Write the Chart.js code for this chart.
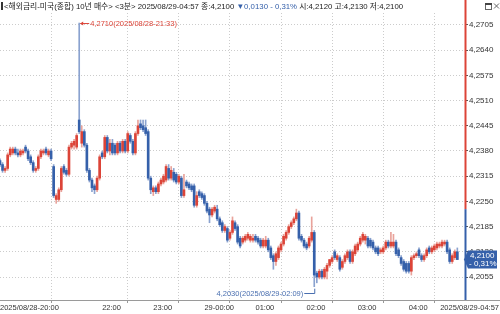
<!DOCTYPE html>
<html>
<head>
<meta charset="utf-8">
<script src="https://cdn.jsdelivr.net/npm/chart.js@4.4.1/dist/chart.umd.min.js"></script>
<style>
  html, body { margin: 0; padding: 0; background: #fff; overflow: hidden; }
  canvas { display: block; }
</style>
</head>
<body>
<canvas id="chart" width="500" height="314"></canvas>
<script>
// 3분봉: 2025/08/28 20:00 ~ 2025/08/29 04:57 (180 candles)
const opens = [
  4.2355, 4.2345, 4.2330, 4.2335, 4.2370, 4.2375, 4.2385, 4.2375, 4.2370, 4.2375,
  4.2390, 4.2380, 4.2365, 4.2350, 4.2330, 4.2335, 4.2365, 4.2375, 4.2385, 4.2370,
  4.2380, 4.2340, 4.2255, 4.2255, 4.2280, 4.2340, 4.2330, 4.2320, 4.2390, 4.2395,
  4.2390, 4.2460, 4.2400, 4.2430, 4.2395, 4.2330, 4.2305, 4.2290, 4.2280, 4.2310,
  4.2375, 4.2365, 4.2415, 4.2380, 4.2400, 4.2395, 4.2375, 4.2400, 4.2380, 4.2405,
  4.2380, 4.2420, 4.2405, 4.2375, 4.2425, 4.2450, 4.2445, 4.2440, 4.2430, 4.2310,
  4.2275, 4.2285, 4.2275, 4.2295, 4.2300, 4.2305, 4.2335, 4.2310, 4.2325, 4.2320,
  4.2300, 4.2310, 4.2265, 4.2300, 4.2295, 4.2290, 4.2290, 4.2240, 4.2275, 4.2270,
  4.2265, 4.2245, 4.2230, 4.2215, 4.2225, 4.2230, 4.2205, 4.2195, 4.2175, 4.2180,
  4.2155, 4.2170, 4.2195, 4.2185, 4.2155, 4.2145, 4.2150, 4.2155, 4.2150, 4.2150,
  4.2160, 4.2155, 4.2150, 4.2135, 4.2135, 4.2150, 4.2130, 4.2110, 4.2095, 4.2105,
  4.2125, 4.2140, 4.2155, 4.2170, 4.2185, 4.2195, 4.2205, 4.2220, 4.2160, 4.2150,
  4.2140, 4.2135, 4.2150, 4.2170, 4.2065, 4.2055, 4.2070, 4.2055, 4.2070, 4.2085,
  4.2095, 4.2120, 4.2100, 4.2105, 4.2080, 4.2095, 4.2105, 4.2120, 4.2095, 4.2115,
  4.2125, 4.2140, 4.2150, 4.2150, 4.2155, 4.2150, 4.2145, 4.2130, 4.2130, 4.2120,
  4.2120, 4.2130, 4.2145, 4.2135, 4.2135, 4.2145, 4.2125, 4.2105, 4.2095, 4.2090,
  4.2090, 4.2070, 4.2105, 4.2110, 4.2125, 4.2110, 4.2100, 4.2110, 4.2130, 4.2120,
  4.2125, 4.2130, 4.2135, 4.2135, 4.2140, 4.2145, 4.2125, 4.2095, 4.2105, 4.2120,
];
const highs = [
  4.2360, 4.2350, 4.2340, 4.2375, 4.2390, 4.2390, 4.2390, 4.2385, 4.2385, 4.2385,
  4.2395, 4.2385, 4.2370, 4.2355, 4.2340, 4.2370, 4.2385, 4.2385, 4.2390, 4.2385,
  4.2385, 4.2345, 4.2270, 4.2285, 4.2340, 4.2345, 4.2335, 4.2395, 4.2405, 4.2410,
  4.2425, 4.2710, 4.2445, 4.2435, 4.2400, 4.2335, 4.2310, 4.2295, 4.2315, 4.2370,
  4.2380, 4.2420, 4.2420, 4.2410, 4.2410, 4.2400, 4.2405, 4.2405, 4.2410, 4.2410,
  4.2430, 4.2425, 4.2410, 4.2430, 4.2460, 4.2460, 4.2460, 4.2460, 4.2435, 4.2315,
  4.2290, 4.2290, 4.2300, 4.2310, 4.2320, 4.2345, 4.2345, 4.2340, 4.2335, 4.2325,
  4.2320, 4.2315, 4.2320, 4.2305, 4.2300, 4.2295, 4.2295, 4.2275, 4.2280, 4.2275,
  4.2270, 4.2250, 4.2235, 4.2235, 4.2240, 4.2240, 4.2210, 4.2200, 4.2190, 4.2185,
  4.2175, 4.2210, 4.2200, 4.2190, 4.2160, 4.2160, 4.2165, 4.2170, 4.2165, 4.2165,
  4.2165, 4.2160, 4.2155, 4.2155, 4.2160, 4.2155, 4.2135, 4.2115, 4.2120, 4.2135,
  4.2145, 4.2165, 4.2175, 4.2190, 4.2200, 4.2210, 4.2230, 4.2225, 4.2165, 4.2155,
  4.2145, 4.2160, 4.2210, 4.2175, 4.2070, 4.2075, 4.2075, 4.2080, 4.2090, 4.2100,
  4.2110, 4.2125, 4.2115, 4.2110, 4.2100, 4.2115, 4.2125, 4.2125, 4.2125, 4.2140,
  4.2145, 4.2160, 4.2170, 4.2165, 4.2160, 4.2155, 4.2150, 4.2135, 4.2135, 4.2130,
  4.2135, 4.2150, 4.2150, 4.2170, 4.2165, 4.2150, 4.2130, 4.2110, 4.2100, 4.2095,
  4.2095, 4.2110, 4.2115, 4.2120, 4.2130, 4.2115, 4.2115, 4.2130, 4.2135, 4.2135,
  4.2140, 4.2145, 4.2145, 4.2150, 4.2150, 4.2150, 4.2130, 4.2115, 4.2125, 4.2130,
];
const lows = [
  4.2340, 4.2325, 4.2325, 4.2330, 4.2365, 4.2370, 4.2370, 4.2365, 4.2365, 4.2370,
  4.2375, 4.2355, 4.2345, 4.2325, 4.2325, 4.2330, 4.2360, 4.2370, 4.2370, 4.2365,
  4.2355, 4.2260, 4.2245, 4.2250, 4.2275, 4.2320, 4.2315, 4.2315, 4.2385, 4.2385,
  4.2385, 4.2425, 4.2390, 4.2390, 4.2325, 4.2300, 4.2275, 4.2270, 4.2275, 4.2305,
  4.2360, 4.2360, 4.2375, 4.2370, 4.2370, 4.2370, 4.2370, 4.2375, 4.2375, 4.2375,
  4.2375, 4.2400, 4.2370, 4.2370, 4.2420, 4.2435, 4.2430, 4.2420, 4.2305, 4.2270,
  4.2265, 4.2270, 4.2270, 4.2290, 4.2295, 4.2300, 4.2305, 4.2305, 4.2300, 4.2295,
  4.2295, 4.2260, 4.2260, 4.2285, 4.2280, 4.2275, 4.2235, 4.2235, 4.2260, 4.2255,
  4.2240, 4.2220, 4.2195, 4.2210, 4.2220, 4.2200, 4.2185, 4.2170, 4.2170, 4.2145,
  4.2150, 4.2165, 4.2175, 4.2140, 4.2130, 4.2140, 4.2145, 4.2150, 4.2145, 4.2145,
  4.2145, 4.2140, 4.2130, 4.2130, 4.2130, 4.2120, 4.2100, 4.2075, 4.2085, 4.2100,
  4.2120, 4.2135, 4.2150, 4.2165, 4.2180, 4.2190, 4.2200, 4.2150, 4.2145, 4.2130,
  4.2125, 4.2130, 4.2145, 4.2030, 4.2040, 4.2050, 4.2050, 4.2050, 4.2050, 4.2080,
  4.2090, 4.2100, 4.2095, 4.2070, 4.2075, 4.2090, 4.2100, 4.2090, 4.2090, 4.2110,
  4.2120, 4.2135, 4.2145, 4.2140, 4.2130, 4.2130, 4.2125, 4.2115, 4.2110, 4.2115,
  4.2115, 4.2125, 4.2130, 4.2130, 4.2130, 4.2110, 4.2105, 4.2085, 4.2070, 4.2065,
  4.2065, 4.2060, 4.2100, 4.2105, 4.2105, 4.2095, 4.2095, 4.2105, 4.2115, 4.2115,
  4.2120, 4.2125, 4.2130, 4.2130, 4.2135, 4.2115, 4.2090, 4.2090, 4.2100, 4.2100,
];
const closes = [
  4.2345, 4.2330, 4.2335, 4.2370, 4.2385, 4.2385, 4.2375, 4.2370, 4.2380, 4.2380,
  4.2380, 4.2360, 4.2350, 4.2330, 4.2335, 4.2365, 4.2380, 4.2380, 4.2375, 4.2380,
  4.2360, 4.2265, 4.2265, 4.2280, 4.2335, 4.2325, 4.2320, 4.2390, 4.2400, 4.2405,
  4.2420, 4.2430, 4.2430, 4.2395, 4.2330, 4.2305, 4.2285, 4.2280, 4.2310, 4.2365,
  4.2365, 4.2415, 4.2380, 4.2400, 4.2375, 4.2375, 4.2400, 4.2380, 4.2405, 4.2380,
  4.2425, 4.2405, 4.2375, 4.2425, 4.2445, 4.2440, 4.2435, 4.2425, 4.2310, 4.2280,
  4.2285, 4.2275, 4.2295, 4.2305, 4.2315, 4.2340, 4.2310, 4.2330, 4.2305, 4.2300,
  4.2315, 4.2265, 4.2280, 4.2290, 4.2285, 4.2280, 4.2240, 4.2265, 4.2265, 4.2260,
  4.2245, 4.2225, 4.2215, 4.2230, 4.2235, 4.2205, 4.2190, 4.2175, 4.2185, 4.2150,
  4.2170, 4.2200, 4.2180, 4.2145, 4.2135, 4.2155, 4.2160, 4.2165, 4.2160, 4.2155,
  4.2150, 4.2145, 4.2135, 4.2150, 4.2150, 4.2125, 4.2105, 4.2095, 4.2115, 4.2130,
  4.2140, 4.2160, 4.2170, 4.2185, 4.2195, 4.2205, 4.2220, 4.2155, 4.2150, 4.2135,
  4.2130, 4.2155, 4.2170, 4.2060, 4.2055, 4.2070, 4.2055, 4.2075, 4.2085, 4.2100,
  4.2105, 4.2105, 4.2110, 4.2075, 4.2095, 4.2110, 4.2120, 4.2095, 4.2120, 4.2135,
  4.2140, 4.2155, 4.2165, 4.2160, 4.2135, 4.2135, 4.2130, 4.2120, 4.2115, 4.2125,
  4.2130, 4.2145, 4.2135, 4.2145, 4.2145, 4.2115, 4.2110, 4.2090, 4.2075, 4.2070,
  4.2070, 4.2105, 4.2110, 4.2115, 4.2110, 4.2100, 4.2110, 4.2125, 4.2120, 4.2130,
  4.2135, 4.2140, 4.2140, 4.2145, 4.2145, 4.2120, 4.2095, 4.2110, 4.2120, 4.2100,
];
const prevClose = 4.2230;

const xTickIdx = [0, 40, 60, 80, 100, 120, 140, 160];
const xTickLabels = ['2025/08/28-20:00', '22:00', '23:00', '29-00:00', '01:00', '02:00', '03:00', '04:00'];
const lastTimeLabel = '2025/08/29-04:57';
const yTicks = [4.2055, 4.2120, 4.2185, 4.2250, 4.2315, 4.2380, 4.2445, 4.2510, 4.2575, 4.2640, 4.2705];
const chartName = '<해외금리-미국(종합) 10년 매수> <3분>';

const UP = '#dc4438', DOWN = '#3560aa';
const UP_WICK = '#e9a39b', DOWN_WICK = '#8aa2cf';
const FONT = '"Liberation Sans", "Noto Sans CJK KR", sans-serif';

const fmt = v => v.toFixed(4).replace('.', ',');
const isUp = i => closes[i] >= opens[i];

// candle index -> "2025/08/28-21:33"
function candleTime(i) {
    const d = new Date(Date.UTC(2025, 7, 28, 20, 0) + i * 3 * 60000);
    const p = n => String(n).padStart(2, '0');
    return `${d.getUTCFullYear()}/${p(d.getUTCMonth() + 1)}/${p(d.getUTCDate())}-${p(d.getUTCHours())}:${p(d.getUTCMinutes())}`;
}

const overlay = {
    id: 'overlay',
    afterDraw(chart) {
        const { ctx, chartArea: a, scales: { x, y } } = chart;
        const W = chart.width;
        const last = closes.length - 1;
        const line = (x1, y1, x2, y2) => { ctx.beginPath(); ctx.moveTo(x1, y1); ctx.lineTo(x2, y2); ctx.stroke(); };
        ctx.save();

        // bottom separator under the plot
        ctx.strokeStyle = '#9a9a9a';
        ctx.lineWidth = 1;
        line(0, a.bottom + 0.5, W, a.bottom + 0.5);

        // right axis line, red above previous close, blue below
        const yPrev = y.getPixelForValue(prevClose);
        ctx.lineWidth = 2;
        ctx.strokeStyle = UP;
        line(a.right + 0.5, 0, a.right + 0.5, yPrev);
        ctx.strokeStyle = DOWN;
        line(a.right + 0.5, yPrev, a.right + 0.5, a.bottom);

        // last time label, right aligned
        ctx.font = '7.5px ' + FONT;
        ctx.fillStyle = '#333';
        ctx.textAlign = 'right';
        ctx.textBaseline = 'middle';
        ctx.fillText(lastTimeLabel, W - 1, a.bottom + 7.5);

        // title line
        const diff = closes[last] - prevClose;
        const pct = Math.abs(diff / prevClose * 100).toFixed(2).replace('.', ',');
        const parts = [
            { t: `${chartName} ${lastTimeLabel} 종:${fmt(closes[last])} `, c: '#222' },
            { t: `${diff < 0 ? '▼' : '▲'}${fmt(Math.abs(diff))} ${diff < 0 ? '-' : '+'} ${pct}% `, c: diff < 0 ? DOWN : UP },
            { t: `시:${fmt(opens[last])} 고:${fmt(highs[last])} 저:${fmt(lows[last])}`, c: '#222' },
        ];
        ctx.fillStyle = '#333';
        ctx.fillRect(1, 2, 2, 8);
        ctx.font = '7.8px ' + FONT;
        ctx.textAlign = 'left';
        let tx = 4;
        parts.forEach(p => {
            ctx.fillStyle = p.c;
            ctx.fillText(p.t, tx, 6.5);
            tx += ctx.measureText(p.t).width;
        });

        // window icons top right
        ctx.strokeStyle = '#666';
        ctx.lineWidth = 1;
        ctx.strokeRect(485.5, 3.5, 6, 6);
        ctx.fillStyle = '#444';
        ctx.fillRect(485, 3, 7, 2);
        line(494, 3.5, 499, 8.5);
        line(499, 3.5, 494, 8.5);

        // highest high annotation
        let hi = 0, lo = 0;
        highs.forEach((v, i) => { if (v > highs[hi]) hi = i; });
        lows.forEach((v, i) => { if (v < lows[lo]) lo = i; });
        const hx = x.getPixelForValue(hi), hy = y.getPixelForValue(highs[hi]);
        ctx.strokeStyle = UP;
        ctx.fillStyle = UP;
        line(hx + 1, hy + 0.5, hx + 10, hy + 0.5);
        ctx.beginPath();
        ctx.moveTo(hx + 1, hy + 0.5);
        ctx.lineTo(hx + 4, hy - 1.5);
        ctx.lineTo(hx + 4, hy + 2.5);
        ctx.fill();
        ctx.font = '7.5px ' + FONT;
        ctx.textAlign = 'left';
        ctx.fillText(`${fmt(highs[hi])}(${candleTime(hi)})`, hx + 11, hy + 0.5);

        // lowest low annotation
        const lx = x.getPixelForValue(lo), ly = y.getPixelForValue(lows[lo]);
        const ty = a.bottom - 7;
        ctx.strokeStyle = '#4a6fb0';
        ctx.fillStyle = '#4a6fb0';
        line(lx + 0.5, ly + 2, lx + 0.5, ty + 0.5);
        line(lx + 0.5, ty + 0.5, lx - 10, ty + 0.5);
        ctx.textAlign = 'right';
        ctx.fillText(`${fmt(lows[lo])}(${candleTime(lo)})`, lx - 11, ty + 0.5);

        // current price box
        const cy = y.getPixelForValue(closes[last]);
        const bx = a.right + 1;
        ctx.fillStyle = DOWN;
        ctx.beginPath();
        ctx.moveTo(bx - 2, cy);
        ctx.lineTo(bx + 2, cy - 9);
        ctx.lineTo(W - 3, cy - 9);
        ctx.lineTo(W - 3, cy + 9);
        ctx.lineTo(bx + 2, cy + 9);
        ctx.closePath();
        ctx.fill();
        ctx.fillStyle = '#fff';
        ctx.font = '8px ' + FONT;
        ctx.textAlign = 'left';
        ctx.fillText(fmt(closes[last]), bx + 4, cy - 4);
        ctx.fillText(`${diff < 0 ? '-' : '+'} ${pct}%`, bx + 3, cy + 4.5);

        ctx.restore();
    },
};

new Chart(document.getElementById('chart'), {
    type: 'bar',
    data: {
        datasets: [
            {
                label: 'wick',
                data: highs.map((h, i) => ({ x: i, y: [lows[i], h] })),
                backgroundColor: highs.map((_, i) => isUp(i) ? UP_WICK : DOWN_WICK),
                barThickness: 1,
                grouped: false,
                order: 2,
            },
            {
                label: 'body',
                data: opens.map((o, i) => ({ x: i, y: [o, closes[i]] })),
                backgroundColor: opens.map((_, i) => isUp(i) ? UP : DOWN),
                barThickness: 2,
                minBarLength: 1,
                grouped: false,
                order: 1,
            },
        ],
    },
    options: {
        responsive: false,
        animation: false,
        devicePixelRatio: 1,
        layout: { padding: { top: 13, left: 0, right: 0, bottom: 0 } },
        plugins: { legend: { display: false }, tooltip: { enabled: false } },
        scales: {
            x: {
                type: 'linear',
                min: 0,
                max: 182,
                offset: false,
                afterBuildTicks: s => { s.ticks = xTickIdx.map(v => ({ value: v })); },
                afterFit: s => { s.height = 14; },
                ticks: {
                    align: 'start',
                    autoSkip: false,
                    maxRotation: 0,
                    padding: 0,
                    color: '#333',
                    font: { family: FONT, size: 7.5 },
                    callback: v => xTickLabels[xTickIdx.indexOf(v)],
                },
                grid: {
                    color: c => c.index === 0 ? 'rgba(0,0,0,0)' : '#cccccc',
                    tickColor: '#999',
                    tickLength: 3,
                },
                border: { display: false, dash: [1, 2] },
            },
            y: {
                position: 'right',
                min: 4.19957,
                max: 4.27359,
                afterBuildTicks: s => { s.ticks = yTicks.map(v => ({ value: v })); },
                afterFit: s => { s.width = 35; },
                ticks: {
                    padding: 1,
                    color: '#333',
                    font: { family: FONT, size: 8 },
                    callback: v => fmt(v),
                },
                grid: {
                    color: '#cccccc',
                    tickColor: '#555',
                    tickLength: 3,
                },
                border: { display: false, dash: [1, 2] },
            },
        },
    },
    plugins: [overlay],
});
</script>
</body>
</html>
